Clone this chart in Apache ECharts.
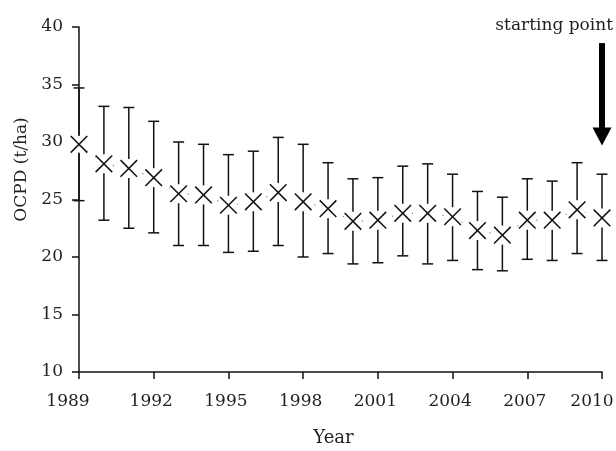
<!DOCTYPE html>
<html>
<head>
<meta charset="utf-8">
<script src="https://cdn.jsdelivr.net/npm/echarts@6/dist/echarts.min.js"></script>
<style>
	html, body { margin: 0; padding: 0; background: #fff; }
	#chart { width: 616px; height: 451px; }
</style>
</head>
<body>
<div id="chart"></div>
<script>
	// OCPD by year, mean with error bars
	const years = [1989, 1990, 1991, 1992, 1993, 1994, 1995, 1996, 1997, 1998, 1999,
		2000, 2001, 2002, 2003, 2004, 2005, 2006, 2007, 2008, 2009, 2010];
	const meanVals = [29.8, 28.1, 27.7, 26.9, 25.5, 25.4, 24.5, 24.8, 25.6, 24.8, 24.2,
		23.1, 23.2, 23.8, 23.8, 23.5, 22.3, 21.9, 23.2, 23.2, 24.1, 23.4];
	const upperVals = [34.7, 33.1, 33.0, 31.8, 30.0, 29.8, 28.9, 29.2, 30.4, 29.8, 28.2,
		26.8, 26.9, 27.9, 28.1, 27.2, 25.7, 25.2, 26.8, 26.6, 28.2, 27.2];
	const lowerVals = [24.9, 23.2, 22.5, 22.1, 21.0, 21.0, 20.4, 20.5, 21.0, 20.0, 20.3,
		19.4, 19.5, 20.1, 19.4, 19.7, 18.9, 18.8, 19.8, 19.7, 20.3, 19.7];
	// arrow: [year, from, to]
	const arrowData = [[2010, 38.6, 29.7]];
	const arrowText = 'starting point';

	const fontFamily = 'DejaVu Serif';
	const textColor = '#231f20';
	const lineColor = '#111';

	const barData = years.map((y, i) => [y, meanVals[i], lowerVals[i], upperVals[i]]);
	const lineData = years.map((y, i) => [y, meanVals[i]]);

	const myChart = echarts.init(document.getElementById('chart'));

	const option = {
		backgroundColor: '#fff',
		animation: false,
		title: {
			text: arrowText,
			right: 3,
			top: 17,
			padding: 0,
			textStyle: { fontFamily: fontFamily, fontSize: 17, fontWeight: 'normal', color: textColor }
		},
		grid: {
			left: 79,
			right: 14,
			top: 27,
			bottom: 79,
			outerBoundsMode: 'none'
		},
		xAxis: {
			type: 'value',
			min: 1989,
			max: 2010,
			interval: 3,
			name: 'Year',
			nameLocation: 'middle',
			nameGap: 57,
			nameTextStyle: { fontFamily: fontFamily, fontSize: 18, color: textColor, padding: [0, 14, 0, 0] },
			axisLine: { show: true, onZero: false, lineStyle: { color: lineColor, width: 1.5 } },
			axisTick: { show: true, inside: false, length: 7, lineStyle: { color: lineColor, width: 1.5 } },
			splitLine: { show: false },
			axisLabel: {
				margin: 21,
				fontFamily: fontFamily,
				fontSize: 17,
				color: textColor,
				formatter: function (val) {
					if (val == 1989) return '{first|' + val + '}';
					if (val == 2010) return '{last|' + val + '}';
					return '{mid|' + val + '}';
				},
				rich: {
					first: { fontFamily: fontFamily, fontSize: 17, color: textColor, padding: [0, 22, 0, 0] },
					last: { fontFamily: fontFamily, fontSize: 17, color: textColor, padding: [0, 20, 0, 0] },
					mid: { fontFamily: fontFamily, fontSize: 17, color: textColor, padding: [0, 5, 0, 0] }
				}
			}
		},
		yAxis: {
			type: 'value',
			min: 10,
			max: 40,
			interval: 5,
			name: 'OCPD (t/ha)',
			nameLocation: 'middle',
			nameGap: 46,
			nameTextStyle: { fontFamily: fontFamily, fontSize: 17, color: textColor, padding: [0, 0, 0, 60] },
			axisLine: { show: true, lineStyle: { color: lineColor, width: 1.5 } },
			axisTick: { show: true, inside: false, length: 7, lineStyle: { color: lineColor, width: 1.5 } },
			splitLine: { show: false },
			axisLabel: { margin: 16, fontFamily: fontFamily, fontSize: 17, color: textColor }
		},
		series: [
			{
				// faint dotted link between the means
				type: 'line',
				data: lineData,
				showSymbol: false,
				silent: true,
				z: 1,
				lineStyle: { color: '#666', width: 1, type: [1.2, 9] }
			},
			{
				// error bars with X markers
				type: 'custom',
				data: barData,
				z: 3,
				encode: { x: 0, y: [1, 2, 3] },
				renderItem: function (params, api) {
					const x = api.value(0);
					const pMean = api.coord([x, api.value(1)]);
					const pLow = api.coord([x, api.value(2)]);
					const pHigh = api.coord([x, api.value(3)]);
					const cap = 5.5;
					const m = 8.3;
					const gap = 9.5;
					const ls = { stroke: lineColor, lineWidth: 1.5 };
					return {
						type: 'group',
						children: [
							{ type: 'line', shape: { x1: pHigh[0], y1: pHigh[1], x2: pHigh[0], y2: pMean[1] - gap }, style: ls },
							{ type: 'line', shape: { x1: pLow[0], y1: pMean[1] + gap, x2: pLow[0], y2: pLow[1] }, style: ls },
							{ type: 'line', shape: { x1: pHigh[0] - cap, y1: pHigh[1], x2: pHigh[0] + cap, y2: pHigh[1] }, style: ls },
							{ type: 'line', shape: { x1: pLow[0] - cap, y1: pLow[1], x2: pLow[0] + cap, y2: pLow[1] }, style: ls },
							{ type: 'rect', shape: { x: pMean[0] - m, y: pMean[1] - m, width: 2 * m, height: 2 * m }, style: { fill: '#fff' } },
							{ type: 'line', shape: { x1: pMean[0] - m, y1: pMean[1] - m, x2: pMean[0] + m, y2: pMean[1] + m }, style: ls },
							{ type: 'line', shape: { x1: pMean[0] - m, y1: pMean[1] + m, x2: pMean[0] + m, y2: pMean[1] - m }, style: ls }
						]
					};
				}
			},
			{
				// arrow pointing at the starting point
				type: 'custom',
				data: arrowData,
				z: 4,
				silent: true,
				encode: { x: 0, y: [1, 2] },
				renderItem: function (params, api) {
					const x = api.value(0);
					const pTop = api.coord([x, api.value(1)]);
					const pTip = api.coord([x, api.value(2)]);
					const headH = 18;
					const headW = 9.5;
					const shaftW = 6;
					return {
						type: 'group',
						children: [
							{ type: 'rect', shape: { x: pTop[0] - shaftW / 2, y: pTop[1], width: shaftW, height: pTip[1] - headH - pTop[1] + 2 }, style: { fill: '#000' } },
							{ type: 'polygon', shape: { points: [[pTip[0] - headW, pTip[1] - headH], [pTip[0] + headW, pTip[1] - headH], [pTip[0], pTip[1]]] }, style: { fill: '#000' } }
						]
					};
				}
			}
		]
	};

	myChart.setOption(option);
</script>
</body>
</html>
